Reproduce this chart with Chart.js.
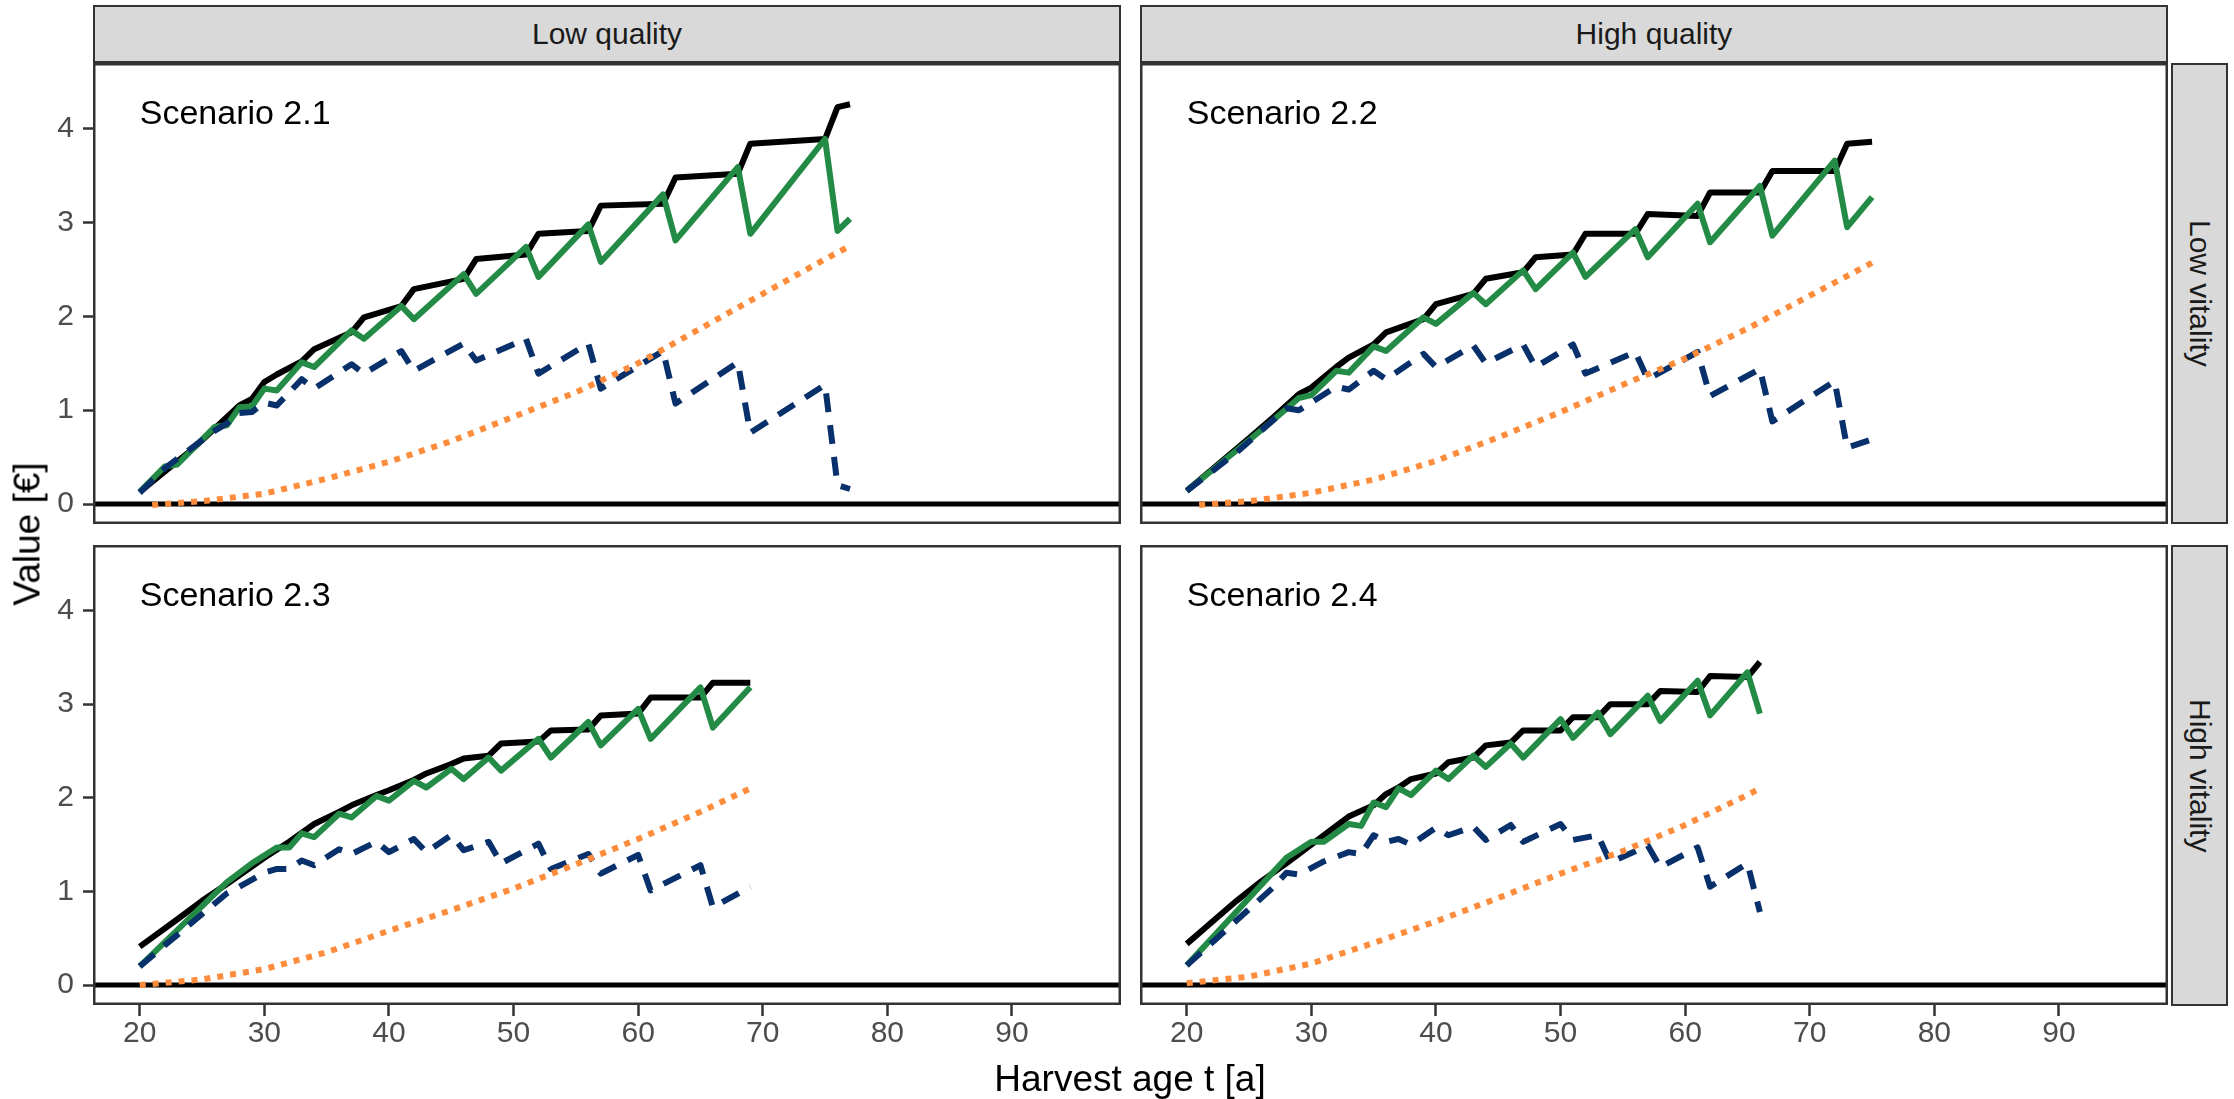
<!DOCTYPE html>
<html lang="en">
<head>
<meta charset="UTF-8">
<title>Harvest age</title>
<script src="https://cdn.jsdelivr.net/npm/chart.js"></script>
<style>
  body{ margin:0; background:#fff; }
  #fig{ position:relative; width:2234px; height:1099px; overflow:hidden; background:#fff;
        font-family:'Liberation Sans', Arial, sans-serif; }
  #fig canvas{ position:absolute; }
  .strip{ position:absolute; box-sizing:border-box; background:#d9d9d9; border:2.5px solid #333;
          color:#1a1a1a; font-size:30px; display:flex; align-items:center; justify-content:center; }
  .strip.row span{ writing-mode:vertical-rl; }
  .title{ position:absolute; color:#000; font-size:37px; line-height:1; white-space:nowrap; }
  #xtitle{ left:1130px; top:1060px; transform:translateX(-50%); }
  #ytitle{ left:27px; top:534px; transform:translate(-50%,-50%) rotate(-90deg); }
</style>
</head>
<body>
<div id="fig">
  <div class="strip" id="col0" style="left:93px;top:5px;width:1028px;height:58px"></div>
  <div class="strip" id="col1" style="left:1140px;top:5px;width:1028px;height:58px"></div>
  <div class="strip row" id="row0" style="left:2171px;top:63px;width:57px;height:461px"><span></span></div>
  <div class="strip row" id="row1" style="left:2171px;top:545px;width:57px;height:461px"><span></span></div>
  <canvas id="p21" style="left:0;top:63px" width="1121" height="461"></canvas>
  <canvas id="p22" style="left:1140px;top:63px" width="1028" height="461"></canvas>
  <canvas id="p23" style="left:0;top:545px" width="1121" height="554"></canvas>
  <canvas id="p24" style="left:1140px;top:545px" width="1028" height="554"></canvas>
  <div class="title" id="xtitle">Harvest age t [a]</div>
  <div class="title" id="ytitle">Value [€]</div>
</div>
<script>
    // facet labels
    let colLabels = ["Low quality", "High quality"];
    let rowLabels = ["Low vitality", "High vitality"];
    let panelLabels = ["Scenario 2.1", "Scenario 2.2", "Scenario 2.3", "Scenario 2.4"];

    // axes
    let xLimits = [16.25, 98.75];
    let yLimits = [-0.213, 4.70];
    let xBreaks = [20, 30, 40, 50, 60, 70, 80, 90];
    let yBreaks = [0, 1, 2, 3, 4];
    let labelPos = [20, 4.05];

    // Scenario 2.1 : [harvest age, value]
    let black21 = [[20,0.13],[24,0.56],[25,0.68],[28,1.05],[29,1.12],[30,1.30],[31,1.38],[33,1.52],[34,1.65],[37,1.83],[38,1.99],[41,2.11],[42,2.29],[46,2.40],[47,2.61],[51,2.66],[52,2.88],[56,2.91],[57,3.18],[62,3.20],[63,3.48],[68,3.52],[69,3.84],[75,3.89],[76,4.23],[77,4.26]];
    let green21 = [[20,0.13],[22,0.40],[23,0.42],[26,0.82],[27,0.84],[28,1.03],[29,1.04],[30,1.23],[31,1.21],[33,1.51],[34,1.46],[37,1.85],[38,1.76],[41,2.11],[42,1.97],[46,2.45],[47,2.24],[51,2.74],[52,2.42],[56,2.98],[57,2.58],[62,3.30],[63,2.81],[68,3.59],[69,2.88],[75,3.89],[76,2.91],[77,3.04]];
    let blue21 = [[20,0.12],[22,0.38],[26,0.78],[27,0.86],[28,0.97],[29,0.98],[30,1.08],[31,1.05],[33,1.33],[34,1.23],[37,1.49],[38,1.39],[41,1.63],[42,1.42],[46,1.71],[47,1.53],[51,1.76],[52,1.39],[56,1.71],[57,1.23],[62,1.63],[63,1.07],[68,1.51],[69,0.76],[75,1.27],[76,0.20],[77,0.16]];
    let orange21 = [[21,-0.01],[25,0.03],[30,0.11],[35,0.27],[40,0.45],[45,0.67],[50,0.93],[55,1.19],[60,1.50],[65,1.87],[70,2.24],[75,2.61],[77,2.75]];

    // Scenario 2.2
    let black22 = [[20,0.14],[25,0.70],[27,0.93],[29,1.17],[30,1.24],[32,1.46],[33,1.56],[35,1.70],[36,1.83],[39,1.97],[40,2.13],[43,2.24],[44,2.40],[47,2.47],[48,2.63],[51,2.66],[52,2.88],[56,2.88],[57,3.09],[61,3.07],[62,3.32],[66,3.32],[67,3.55],[72,3.55],[73,3.84],[75,3.86]];
    let green22 = [[20,0.14],[25,0.68],[27,0.90],[29,1.13],[30,1.16],[32,1.42],[33,1.40],[35,1.68],[36,1.63],[39,1.99],[40,1.92],[43,2.25],[44,2.13],[47,2.49],[48,2.29],[51,2.68],[52,2.42],[56,2.93],[57,2.63],[61,3.20],[62,2.79],[66,3.39],[67,2.86],[72,3.66],[73,2.95],[75,3.27]];
    let blue22 = [[20,0.14],[24,0.55],[27,0.90],[28,1.02],[29,1.00],[32,1.25],[33,1.22],[35,1.42],[36,1.33],[39,1.60],[40,1.46],[43,1.69],[44,1.50],[47,1.70],[48,1.46],[51,1.70],[52,1.39],[56,1.62],[57,1.33],[61,1.62],[62,1.15],[66,1.44],[67,0.88],[72,1.31],[73,0.60],[75,0.69]];
    let orange22 = [[21,-0.01],[25,0.03],[30,0.12],[35,0.26],[40,0.46],[45,0.71],[50,0.98],[55,1.27],[60,1.55],[65,1.87],[70,2.22],[75,2.57]];

    // Scenario 2.3
    let black23 = [[20,0.41],[23,0.70],[25,0.90],[27,1.08],[30,1.36],[32,1.53],[34,1.72],[36,1.85],[37,1.92],[39,2.03],[40,2.08],[42,2.19],[43,2.26],[45,2.36],[46,2.42],[48,2.45],[49,2.58],[52,2.60],[53,2.72],[56,2.73],[57,2.88],[60,2.90],[61,3.07],[65,3.07],[66,3.23],[69,3.23]];
    let green23 = [[20,0.20],[27,1.10],[29,1.30],[31,1.47],[32,1.47],[33,1.62],[34,1.58],[36,1.83],[37,1.79],[39,2.02],[40,1.97],[42,2.18],[43,2.11],[45,2.31],[46,2.20],[48,2.43],[49,2.29],[52,2.63],[53,2.43],[56,2.81],[57,2.56],[60,2.95],[61,2.63],[65,3.18],[66,2.75],[69,3.18]];
    let blue23 = [[20,0.20],[27,0.98],[28,1.05],[30,1.20],[31,1.24],[32,1.24],[33,1.33],[34,1.28],[36,1.45],[37,1.40],[39,1.53],[40,1.42],[42,1.56],[43,1.42],[45,1.60],[46,1.44],[48,1.53],[49,1.30],[52,1.51],[53,1.24],[56,1.40],[57,1.19],[60,1.39],[61,1.01],[65,1.28],[66,0.83],[69,1.05]];
    let orange23 = [[20,0.00],[25,0.06],[30,0.17],[35,0.35],[40,0.58],[45,0.80],[50,1.03],[55,1.29],[60,1.56],[65,1.85],[69,2.10]];

    // Scenario 2.4
    let black24 = [[20,0.44],[22,0.67],[24,0.90],[26,1.11],[28,1.30],[30,1.50],[32,1.70],[33,1.80],[35,1.92],[36,2.04],[37,2.11],[38,2.20],[40,2.26],[41,2.38],[43,2.43],[44,2.56],[46,2.59],[47,2.72],[50,2.72],[51,2.86],[53,2.86],[54,3.00],[57,3.00],[58,3.14],[61,3.13],[62,3.30],[65,3.29],[66,3.45]];
    let green24 = [[20,0.21],[28,1.36],[30,1.53],[31,1.53],[33,1.72],[34,1.70],[35,1.95],[36,1.90],[37,2.10],[38,2.03],[40,2.29],[41,2.20],[43,2.45],[44,2.33],[46,2.58],[47,2.43],[50,2.84],[51,2.64],[53,2.91],[54,2.68],[57,3.09],[58,2.82],[61,3.25],[62,2.88],[65,3.34],[66,2.90]];
    let blue24 = [[20,0.21],[27,1.05],[28,1.20],[29,1.18],[31,1.32],[33,1.42],[34,1.40],[35,1.60],[36,1.53],[37,1.56],[38,1.50],[40,1.68],[41,1.60],[43,1.69],[44,1.55],[46,1.71],[47,1.53],[50,1.72],[51,1.55],[53,1.60],[54,1.31],[57,1.49],[58,1.26],[61,1.47],[62,1.05],[65,1.30],[66,0.78]];
    let orange24 = [[20,0.02],[25,0.09],[30,0.23],[35,0.45],[40,0.68],[45,0.93],[50,1.19],[55,1.43],[60,1.71],[65,2.03],[66,2.10]];

    document.querySelector("#col0").textContent = colLabels[0];
    document.querySelector("#col1").textContent = colLabels[1];
    document.querySelector("#row0 span").textContent = rowLabels[0];
    document.querySelector("#row1 span").textContent = rowLabels[1];

    Chart.defaults.font.family = "'Liberation Sans', Arial, sans-serif";

    // panel border + scenario text
    let panelDeco = {
        id: "panelDeco",
        afterDatasetsDraw(chart, args, opts){
            let ctx = chart.ctx;
            let a = chart.chartArea;
            ctx.save();
            ctx.lineWidth = 2.5;
            ctx.strokeStyle = "#333";
            ctx.strokeRect(a.left + 1.25, a.top + 1.25, a.width - 2.5, a.height - 2.5);
            ctx.fillStyle = "#000";
            ctx.font = "34px 'Liberation Sans', Arial, sans-serif";
            ctx.textAlign = "left";
            ctx.textBaseline = "alphabetic";
            ctx.fillText(opts.label, chart.scales.x.getPixelForValue(labelPos[0]), chart.scales.y.getPixelForValue(labelPos[1]));
            ctx.restore();
        }
    };

    function makePanel(id, series, label, showX, showY){
        let datasets = [
            { data: [[xLimits[0], 0], [xLimits[1], 0]], borderColor: "#000", borderWidth: 5, order: 10 },
            { data: series[0], borderColor: "#000", borderWidth: 6, order: 4 },
            { data: series[1], borderColor: "#238b45", borderWidth: 6, order: 3 },
            { data: series[2], borderColor: "#08306b", borderWidth: 6, borderDash: [19, 13], order: 2 },
            { data: series[3], borderColor: "#fd8d3c", borderWidth: 6, borderDash: [6, 7], order: 1 },
        ];
        datasets.forEach(d => {
            d.pointRadius = 0;
            d.tension = 0;
            d.fill = false;
            d.borderJoinStyle = "round";
            d.borderCapStyle = "butt";
        });
        return new Chart(document.querySelector(id), {
            type: "line",
            data: { datasets: datasets },
            options: {
                responsive: false,
                animation: false,
                devicePixelRatio: 1,
                events: [],
                layout: { padding: 0 },
                scales: {
                    x: {
                        type: "linear", min: xLimits[0], max: xLimits[1], display: showX,
                        afterBuildTicks: s => { s.ticks = xBreaks.map(v => ({ value: v })); },
                        afterFit: s => { if(showX){ s.height = 94; } s.paddingLeft = 0; s.paddingRight = 0; },
                        grid: { drawOnChartArea: false, tickLength: 11, tickWidth: 2.5, tickColor: "#333" },
                        border: { display: false },
                        ticks: { color: "#4d4d4d", font: { size: 30 }, padding: 0, maxRotation: 0, autoSkip: false }
                    },
                    y: {
                        type: "linear", min: yLimits[0], max: yLimits[1], display: showY,
                        afterBuildTicks: s => { s.ticks = yBreaks.map(v => ({ value: v })); },
                        afterFit: s => { if(showY){ s.width = 93; } s.paddingTop = 0; s.paddingBottom = 0; },
                        grid: { drawOnChartArea: false, tickLength: 10, tickWidth: 2.5, tickColor: "#333" },
                        border: { display: false },
                        ticks: { color: "#4d4d4d", font: { size: 30 }, padding: 9 }
                    }
                },
                plugins: {
                    legend: { display: false },
                    tooltip: { enabled: false },
                    panelDeco: { label: label }
                }
            },
            plugins: [panelDeco]
        });
    }

    makePanel("#p21", [black21, green21, blue21, orange21], panelLabels[0], false, true);
    makePanel("#p22", [black22, green22, blue22, orange22], panelLabels[1], false, false);
    makePanel("#p23", [black23, green23, blue23, orange23], panelLabels[2], true, true);
    makePanel("#p24", [black24, green24, blue24, orange24], panelLabels[3], true, false);
</script>
</body>
</html>
